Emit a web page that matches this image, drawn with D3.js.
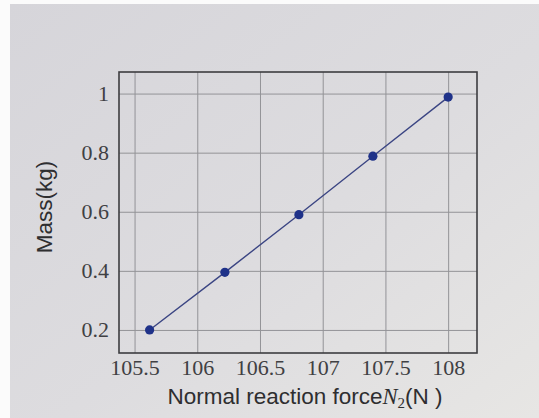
<!DOCTYPE html>
<html>
<head>
<meta charset="utf-8">
<script src="https://cdn.jsdelivr.net/npm/d3@7"></script>
<style>
  html, body { margin: 0; padding: 0; background: #fff; }
  .tick text { font-family: "Liberation Serif", "DejaVu Serif", serif; font-size: 22px; fill: #404043; }
  .aText { font-family: "Liberation Sans", Arial, sans-serif; font-size: 22.5px; fill: #2e2e30; }
</style>
</head>
<body>
<div id="chart"></div>
<script>
// data
var force = [105.62, 106.22, 106.81, 107.40, 108.0];
var mass = [0.2, 0.395, 0.59, 0.788, 0.988];
var xTicks = [105.5, 106, 106.5, 107, 107.5, 108];
var yTicks = [0.2, 0.4, 0.6, 0.8, 1];

var svgWidth = 539;
var svgHeight = 418;

var margin = { top: 72, right: 62, bottom: 65, left: 119 };
var width = svgWidth - margin.left - margin.right;
var height = svgHeight - margin.top - margin.bottom;

var svg = d3.select("#chart")
  .append("svg")
  .attr("width", svgWidth)
  .attr("height", svgHeight);

// paper background
var defs = svg.append("defs");
var grad = defs.append("linearGradient")
  .attr("id", "paper")
  .attr("x1", "0").attr("y1", "0")
  .attr("x2", "1").attr("y2", "1");
grad.append("stop").attr("offset", "0").attr("stop-color", "#d6d5da");
grad.append("stop").attr("offset", "0.55").attr("stop-color", "#dddcdf");
grad.append("stop").attr("offset", "1").attr("stop-color", "#e7e6e4");

svg.append("rect")
  .attr("width", svgWidth).attr("height", svgHeight)
  .attr("fill", "#fbfbfb");
svg.append("rect")
  .attr("x", 10).attr("y", 4)
  .attr("width", svgWidth - 10).attr("height", svgHeight - 4)
  .attr("fill", "url(#paper)");

var chartGroup = svg.append("g")
  .attr("transform", `translate(${margin.left}, ${margin.top})`);

var xScale = d3.scaleLinear()
  .domain([105.376, 108.23])
  .range([0, width]);

var yScale = d3.scaleLinear()
  .domain([0.122, 1.073])
  .range([height, 0]);

// grid
chartGroup.append("g")
  .attr("class", "grid")
  .attr("transform", `translate(0, ${height})`)
  .call(d3.axisBottom(xScale).tickValues(xTicks).tickSize(-height).tickFormat(""))
  .call(g => g.select(".domain").remove());
chartGroup.append("g")
  .attr("class", "grid")
  .call(d3.axisLeft(yScale).tickValues(yTicks).tickSize(-width).tickFormat(""))
  .call(g => g.select(".domain").remove());
chartGroup.selectAll(".grid line")
  .attr("stroke", "#939397")
  .attr("stroke-width", 1);

// tick labels
chartGroup.append("g")
  .attr("transform", `translate(0, ${height})`)
  .call(d3.axisBottom(xScale).tickValues(xTicks).tickSize(0).tickPadding(8).tickFormat(d => String(d)))
  .call(g => g.select(".domain").remove())
  .selectAll("text").attr("dy", "0.71em").attr("y", 6);
chartGroup.append("g")
  .call(d3.axisLeft(yScale).tickValues(yTicks).tickSize(0).tickPadding(10).tickFormat(d => String(d)))
  .call(g => g.select(".domain").remove());

// frame
chartGroup.append("rect")
  .attr("width", width).attr("height", height)
  .attr("fill", "none")
  .attr("stroke", "#3d3d40")
  .attr("stroke-width", 1.6);

// line + points
var pts = force.map((f, i) => ({ x: f, y: mass[i] }));
chartGroup.append("path")
  .datum(pts)
  .attr("fill", "none")
  .attr("stroke", "#3b4583")
  .attr("stroke-width", 1.4)
  .attr("d", d3.line().x(d => xScale(d.x)).y(d => yScale(d.y)));

chartGroup.selectAll("circle")
  .data(pts)
  .enter()
  .append("circle")
  .attr("cx", d => xScale(d.x))
  .attr("cy", d => yScale(d.y))
  .attr("r", 4.6)
  .attr("fill", "#1f3289");

// axis labels
chartGroup.append("text")
  .attr("transform", "rotate(-90)")
  .attr("x", -(207 - margin.top))
  .attr("y", 44 - margin.left)
  .attr("dy", "0.35em")
  .attr("text-anchor", "middle")
  .classed("aText", true)
  .text("Mass(kg)");

var xt = chartGroup.append("text")
  .attr("x", 305 - margin.left)
  .attr("y", 404 - margin.top)
  .attr("text-anchor", "middle")
  .classed("aText", true);
xt.append("tspan").text("Normal reaction force");
xt.append("tspan")
  .attr("font-family", "'Liberation Serif', serif")
  .attr("font-style", "italic")
  .text("N");
xt.append("tspan")
  .attr("font-family", "'Liberation Serif', serif")
  .attr("font-size", "15px")
  .attr("dy", 4)
  .text("2");
xt.append("tspan")
  .attr("dy", -4)
  .text("(N )");
</script>
</body>
</html>
